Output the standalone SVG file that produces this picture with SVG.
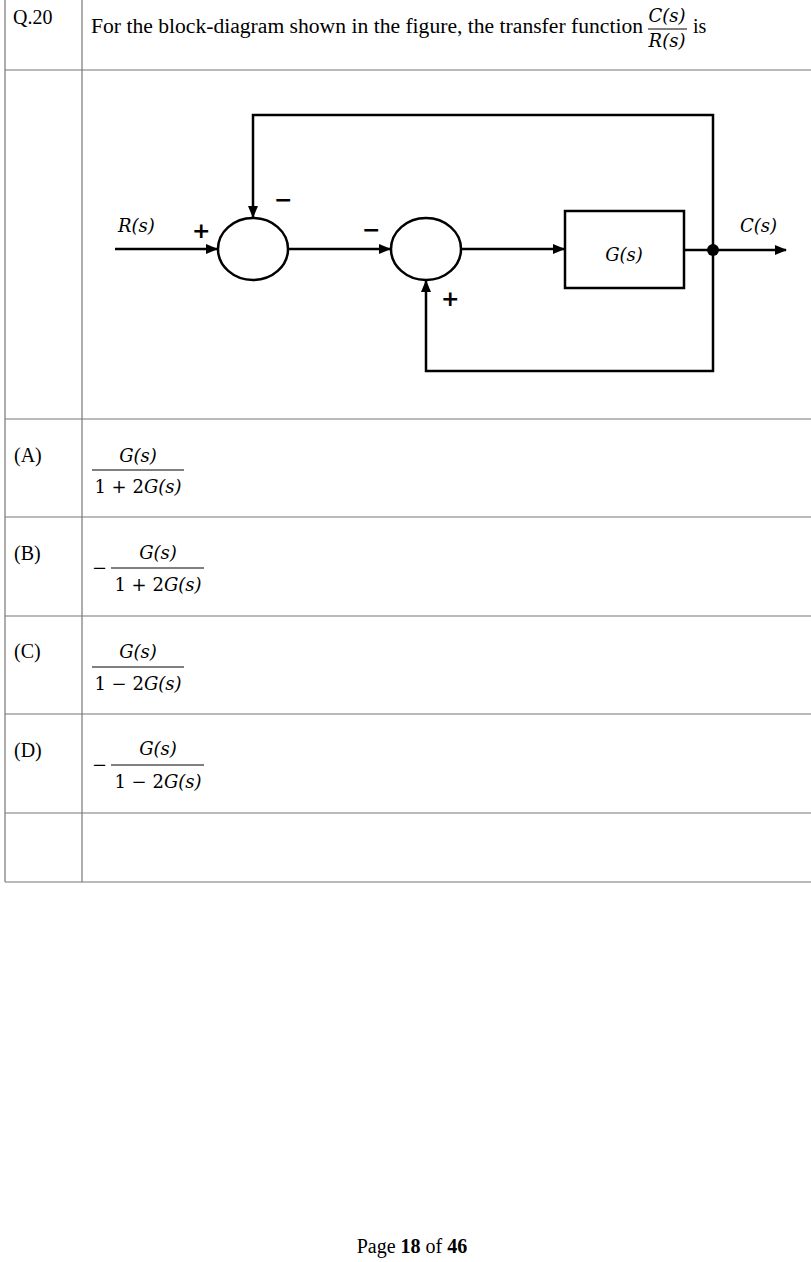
<svg xmlns="http://www.w3.org/2000/svg" width="811" height="1262" viewBox="0 0 811 1262">
<style>
.t{font-family:"Liberation Serif",serif;font-size:20px;fill:#000}
.m{font-family:"DejaVu Serif","Liberation Serif",serif;font-size:18px;font-style:italic;fill:#000}
.mn{font-family:"DejaVu Serif","Liberation Serif",serif;font-size:18px;fill:#000}
.g{stroke:#777;stroke-width:1.2;fill:none}
.w{stroke:#000;stroke-width:2.5;fill:none}
.s{font-family:"DejaVu Sans",sans-serif;font-size:22px;font-weight:bold;fill:#000}
</style>
<defs><marker id="b" markerWidth="12" markerHeight="10" refX="11" refY="5" orient="auto" markerUnits="userSpaceOnUse" viewBox="0 0 12 10"><path d="M0,0L12,5L0,10z" fill="#000"/></marker></defs>
<rect width="811" height="1262" fill="#fff"/>
<g id="table" class="g">
<path d="M5,0V882M82,0V882M5,70H811M5,419H811M5,517H811M5,616H811M5,714H811M5,813H811M5,882H811"/>
</g>
<g id="question">
<text class="t" x="13" y="24">Q.20</text>
<text class="t" x="91" y="33" textLength="552" lengthAdjust="spacingAndGlyphs">For the block-diagram shown in the figure, the transfer function</text>
<text class="m" x="667" y="22" font-size="15" text-anchor="middle">C(s)</text>
<line x1="648" y1="29" x2="687" y2="29" stroke="#000" stroke-width="1"/>
<text class="m" x="667" y="47" font-size="15" text-anchor="middle">R(s)</text>
<text class="t" x="693" y="33">is</text>
</g>
<g id="connectors" class="w">
<path d="M115,249H217" marker-end="url(#b)"/>
<path d="M288,249H390" marker-end="url(#b)"/>
<path d="M461,249H564" marker-end="url(#b)"/>
<path d="M684,250H786" marker-end="url(#b)"/>
<path d="M713,250V115H253V217" marker-end="url(#b)"/>
<path d="M713,250V371H426V281" marker-end="url(#b)"/>
</g>
<g id="sum1"><ellipse class="w" cx="253" cy="249" rx="35" ry="31"/></g>
<g id="sum2"><ellipse class="w" cx="426" cy="249" rx="35" ry="31"/></g>
<g id="G"><rect class="w" x="565" y="211" width="119" height="77"/><text class="m" x="624" y="261" text-anchor="middle">G(s)</text></g>
<g id="junction"><circle cx="713" cy="250" r="6" fill="#000"/></g>
<g id="labels">
<text class="m" x="118" y="232">R(s)</text>
<text class="m" x="740" y="232">C(s)</text>
<text class="s" x="192" y="238">+</text>
<text class="s" x="274" y="207">−</text>
<text class="s" x="362" y="237">−</text>
<text class="s" x="441" y="306">+</text>
</g>
<g id="options">
<text class="t" x="14" y="462">(A)</text>
<text class="m" x="138" y="462" text-anchor="middle">G(s)</text>
<line x1="92" y1="470" x2="184" y2="470" stroke="#000"/>
<text class="mn" x="138" y="493" text-anchor="middle">1 + 2<tspan font-style="italic">G(s)</tspan></text>
<text class="t" x="14" y="560">(B)</text>
<text class="mn" x="92" y="574">−</text>
<text class="m" x="158" y="559" text-anchor="middle">G(s)</text>
<line x1="111" y1="568" x2="204" y2="568" stroke="#000"/>
<text class="mn" x="158" y="591" text-anchor="middle">1 + 2<tspan font-style="italic">G(s)</tspan></text>
<text class="t" x="14" y="658">(C)</text>
<text class="m" x="138" y="658" text-anchor="middle">G(s)</text>
<line x1="92" y1="667" x2="184" y2="667" stroke="#000"/>
<text class="mn" x="138" y="690" text-anchor="middle">1 − 2<tspan font-style="italic">G(s)</tspan></text>
<text class="t" x="14" y="757">(D)</text>
<text class="mn" x="92" y="771">−</text>
<text class="m" x="158" y="755" text-anchor="middle">G(s)</text>
<line x1="111" y1="765" x2="204" y2="765" stroke="#000"/>
<text class="mn" x="158" y="788" text-anchor="middle">1 − 2<tspan font-style="italic">G(s)</tspan></text>
</g>
<text class="t" x="412" y="1253" text-anchor="middle">Page <tspan font-weight="bold">18</tspan> of <tspan font-weight="bold">46</tspan></text>
</svg>
